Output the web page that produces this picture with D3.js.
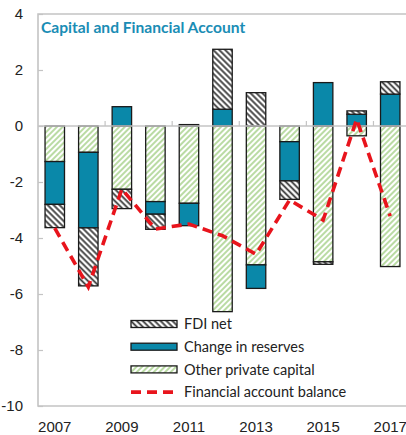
<!DOCTYPE html>
<html>
<head>
<meta charset="utf-8">
<script src="https://cdn.jsdelivr.net/npm/d3@7"></script>
<style>
  body { margin: 0; background: #fff; }
  svg { display: block; font-family: Lato, "Open Sans", sans-serif; }
</style>
</head>
<body>
<div id="chart"></div>
<script>
// values, percent of GDP
var years = [2007, 2008, 2009, 2010, 2011, 2012, 2013, 2014, 2015, 2016, 2017];
var fdiNet = [-0.83, -2.07, -0.69, -0.54, 0.05, 2.14, 1.19, -0.66, -0.09, 0.12, 0.44];
var changeInReserves = [-1.53, -2.70, 0.69, -0.45, -0.80, 0.60, -0.84, -1.40, 1.55, 0.42, 1.14];
var otherPrivate = [-1.27, -0.94, -2.26, -2.70, -2.76, -6.63, -4.96, -0.56, -4.85, -0.35, -5.02];
var faBalance = [-3.65, -5.75, -2.25, -3.68, -3.50, -3.92, -4.58, -2.64, -3.36, 0.24, -3.22];
var yTicks = [4, 2, 0, -2, -4, -6, -8, -10];
var xLabels = [2007, 2009, 2011, 2013, 2015, 2017];

var width = 406, height = 435;
var plotLeft = 38, plotTop = 14, plotRight = 407, plotBottom = 406;

var svg = d3.select("#chart").append("svg")
  .attr("width", width)
  .attr("height", height);

var defs = svg.append("defs");

function hatch(id, angle, color, w, size) {
  var p = defs.append("pattern")
    .attr("id", id)
    .attr("patternUnits", "userSpaceOnUse")
    .attr("width", size)
    .attr("height", size)
    .attr("patternTransform", "rotate(" + angle + ")");
  p.append("rect").attr("width", size).attr("height", size).attr("fill", "#fff");
  p.append("line")
    .attr("x1", size / 2).attr("y1", 0)
    .attr("x2", size / 2).attr("y2", size)
    .attr("stroke", color)
    .attr("stroke-width", w);
}
hatch("fdiHatch", -45, "#3a3a3a", 1.8, 4.2);
hatch("otherHatch", 45, "#a3cf86", 1.5, 4);

var rows = years.map(function(yr, i) {
  return {year: yr, other: otherPrivate[i], reserves: changeInReserves[i], fdi: fdiNet[i]};
});

var series = [
  {key: "other", name: "Other private capital", fill: "url(#otherHatch)"},
  {key: "reserves", name: "Change in reserves", fill: "#0a88a9"},
  {key: "fdi", name: "FDI net", fill: "url(#fdiHatch)"}
];
var fillOf = {};
series.forEach(function(s) { fillOf[s.key] = s.fill; });

var stacked = d3.stack()
  .keys(series.map(function(s) { return s.key; }))
  .offset(d3.stackOffsetDiverging)(rows);

var x = d3.scaleBand()
  .domain(years)
  .range([plotLeft, plotRight])
  .paddingInner(0.42)
  .paddingOuter(0.21);

var y = d3.scaleLinear()
  .domain([-10, 4])
  .range([plotBottom, plotTop]);

// frame
svg.append("path")
  .attr("d", "M" + plotRight + "," + plotTop + "H" + plotLeft + "V" + plotBottom + "H" + plotRight)
  .attr("fill", "none")
  .attr("stroke", "#c4c4c4")
  .attr("stroke-width", 1.6);

// y axis
var yAxis = svg.append("g")
  .attr("transform", "translate(" + plotLeft + ",0)")
  .call(d3.axisLeft(y).tickValues(yTicks).tickSize(-5).tickPadding(15).tickFormat(d3.format("d")));
yAxis.select(".domain").remove();
yAxis.selectAll(".tick line").attr("stroke", "#c4c4c4").attr("stroke-width", 1.2);
yAxis.selectAll(".tick text")
  .attr("font-size", 15)
  .attr("fill", "#222")
  .text(function(d) { return d < 0 ? "-" + Math.abs(d) : d; });

// title
svg.append("text")
  .attr("x", 41)
  .attr("y", 33)
  .attr("font-size", 15.6)
  .attr("font-weight", "bold")
  .attr("fill", "#1a8db5")
  .text("Capital and Financial Account");

// bars
svg.append("g").selectAll("g")
  .data(stacked)
  .join("g")
  .attr("fill", function(s) { return fillOf[s.key]; })
  .selectAll("rect")
  .data(function(s) { return s; })
  .join("rect")
  .attr("x", function(d) { return x(d.data.year); })
  .attr("width", x.bandwidth())
  .attr("y", function(d) { return y(Math.max(d[0], d[1])); })
  .attr("height", function(d) { return Math.abs(y(d[0]) - y(d[1])); })
  .attr("stroke", "#1a1a1a")
  .attr("stroke-width", 1.3);

// zero line with tick marks every other category
svg.append("line")
  .attr("x1", plotLeft).attr("x2", plotRight)
  .attr("y1", y(0)).attr("y2", y(0))
  .attr("stroke", "#c4c4c4")
  .attr("stroke-width", 1.6);

var gap = (x.step() - x.bandwidth()) / 2;
svg.append("g").selectAll("line")
  .data(years.filter(function(yr, i) { return i > 0 && i % 2 == 0; }))
  .join("line")
  .attr("x1", function(d) { return x(d) - gap; })
  .attr("x2", function(d) { return x(d) - gap; })
  .attr("y1", y(0))
  .attr("y2", y(0) - 5)
  .attr("stroke", "#c4c4c4")
  .attr("stroke-width", 1.2);

// x labels
var xAxis = svg.append("g")
  .attr("transform", "translate(0,421)")
  .call(d3.axisBottom(x).tickValues(xLabels).tickSize(0).tickPadding(0).tickFormat(d3.format("d")));
xAxis.select(".domain").remove();
xAxis.selectAll(".tick text").attr("font-size", 15).attr("fill", "#222");

// balance line
var line = d3.line()
  .x(function(d, i) { return x(years[i]) + x.bandwidth() / 2; })
  .y(function(d) { return y(d); });

svg.append("path")
  .datum(faBalance)
  .attr("d", line)
  .attr("fill", "none")
  .attr("stroke", "#e8141c")
  .attr("stroke-width", 3.6)
  .attr("stroke-dasharray", "10,6");

// legend
var legendItems = [
  {name: "FDI net", fill: "url(#fdiHatch)"},
  {name: "Change in reserves", fill: "#0a88a9"},
  {name: "Other private capital", fill: "url(#otherHatch)"},
  {name: "Financial account balance", line: true}
];

var legend = svg.append("g").selectAll("g")
  .data(legendItems)
  .join("g")
  .attr("transform", function(d, i) { return "translate(131," + (324 + i * 22.7) + ")"; });

legend.filter(function(d) { return !d.line; })
  .append("rect")
  .attr("x", 0).attr("y", -3.5)
  .attr("width", 46).attr("height", 7)
  .attr("fill", function(d) { return d.fill; })
  .attr("stroke", "#1a1a1a")
  .attr("stroke-width", 1.3);

legend.filter(function(d) { return d.line; })
  .append("line")
  .attr("x1", 0).attr("x2", 46)
  .attr("y1", 0).attr("y2", 0)
  .attr("stroke", "#e8141c")
  .attr("stroke-width", 3.6)
  .attr("stroke-dasharray", "10,6");

legend.append("text")
  .attr("x", 53)
  .attr("dy", "0.36em")
  .attr("font-size", 14.5)
  .attr("fill", "#222")
  .text(function(d) { return d.name; });
</script>
</body>
</html>
